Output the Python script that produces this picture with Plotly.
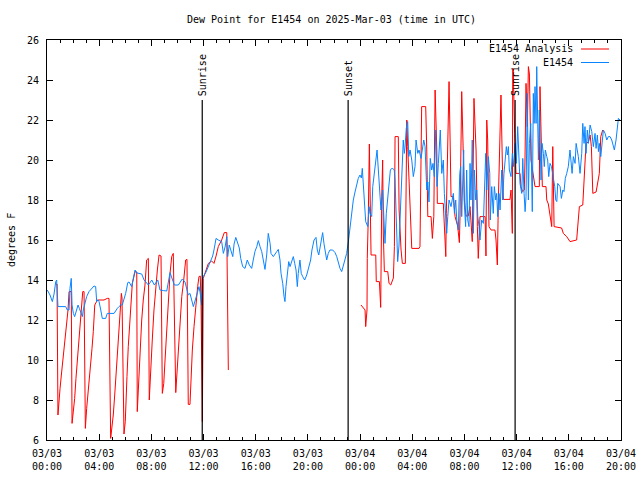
import pandas as pd
import plotly.graph_objects as go

BASE = pd.Timestamp("2025-03-03 00:00")

# E1454 observations: hours since 03/03 00:00 UTC, dew point (F)
obs_hours = [0.02, 0.23, 0.41, 0.54, 0.67, 0.74, 0.84, 1.43, 1.56, 1.69, 1.76, 1.86, 1.92, 2.02, 2.12, 2.22,
             2.38, 2.48, 2.63, 2.71, 2.78, 2.89, 3.04, 3.22, 3.40, 3.60, 3.73, 3.81, 3.91, 3.99, 4.12, 4.24,
             4.50, 4.62, 5.14, 5.27, 5.39, 5.52, 5.65, 5.77, 5.90, 6.03, 6.19, 6.29, 6.49, 6.75, 6.90, 7.26,
             7.44, 7.77, 8.03, 8.23, 8.49, 8.66, 8.92, 9.18, 9.43, 9.76, 10.07, 10.37, 10.58, 10.83, 10.96,
             11.22, 11.48, 11.60, 11.65, 11.73, 11.86, 11.91, 11.98, 12.19, 12.37, 12.55, 12.70, 12.80, 12.96,
             13.13, 13.39, 13.52, 13.65, 13.78, 13.85, 13.97, 14.08, 14.24, 14.34, 14.47, 14.59, 14.74, 14.85,
             15.00, 15.18, 15.35, 15.51, 15.69, 15.81, 15.94, 16.08, 16.20, 16.33, 16.46, 16.58, 16.71, 16.84,
             16.96, 17.10, 17.17, 17.35, 17.48, 17.61, 17.73, 17.86, 17.94, 18.07, 18.17, 18.24, 18.32, 18.42,
             18.53, 18.63, 18.76, 18.88, 18.99, 19.09, 19.19, 19.26, 19.39, 19.49, 19.60, 19.75, 19.91, 20.03,
             20.21, 20.31, 20.47, 20.62, 20.72, 20.83, 20.93, 21.03, 21.13, 21.23, 21.31, 21.44, 21.56, 21.69,
             21.90, 22.08, 22.21, 22.33, 22.46, 22.59, 22.71, 22.84, 22.97, 23.10, 23.23, 23.36, 23.48, 23.61,
             23.74, 23.86, 23.99, 24.10, 24.17, 24.25, 24.33, 24.43, 24.59, 24.69, 24.76, 24.89, 24.97, 25.09,
             25.22, 25.30, 25.40, 25.50, 25.60, 25.73, 25.86, 25.91, 26.01, 26.12, 26.22, 26.32, 26.47, 26.62,
             26.68, 26.81, 26.88, 26.98, 27.08, 27.14, 27.24, 27.31, 27.39, 27.44, 27.54, 27.65, 27.73, 27.83,
             27.96, 28.08, 28.21, 28.29, 28.42, 28.52, 28.67, 28.77, 28.88, 28.98, 29.11, 29.19, 29.28, 29.38,
             29.49, 29.59, 29.69, 29.80, 29.90, 30.00, 30.11, 30.15, 30.26, 30.38, 30.46, 30.57, 30.64, 30.72,
             30.82, 30.97, 31.07, 31.15, 31.23, 31.33, 31.41, 31.53, 31.64, 31.71, 31.79, 31.87, 31.94, 31.99,
             32.09, 32.17, 32.25, 32.35, 32.43, 32.50, 32.60, 32.68, 32.76, 32.86, 32.94, 33.02, 33.12, 33.19,
             33.32, 33.45, 33.52, 33.63, 33.71, 33.83, 33.94, 33.98, 34.09, 34.21, 34.29, 34.40, 34.47, 34.55,
             34.65, 34.73, 34.86, 34.93, 35.03, 35.11, 35.21, 35.29, 35.37, 35.44, 35.57, 35.67, 35.77, 35.87,
             35.98, 36.08, 36.18, 36.26, 36.39, 36.47, 36.57, 36.65, 36.72, 36.82, 36.90, 36.98, 37.08, 37.13,
             37.20, 37.28, 37.34, 37.41, 37.49, 37.54, 37.62, 37.67, 37.74, 37.79, 37.87, 37.95, 38.05, 38.12,
             38.20, 38.31, 38.38, 38.46, 38.56, 38.67, 38.82, 38.92, 39.00, 39.08, 39.15, 39.25, 39.33, 39.43,
             39.54, 39.63, 39.73, 39.84, 39.96, 40.09, 40.17, 40.25, 40.35, 40.48, 40.56, 40.65, 40.73, 40.86,
             40.99, 41.07, 41.17, 41.24, 41.32, 41.42, 41.50, 41.63, 41.76, 41.88, 42.01, 42.09, 42.19, 42.27,
             42.34, 42.45, 42.55, 42.65, 42.78, 42.91, 43.03, 43.16, 43.29, 43.41, 43.49, 43.62, 43.72, 43.80,
             43.92]
obs_vals = [13.5, 13.25, 12.92, 13.3, 13.92, 14.0, 12.67, 12.67, 12.5, 12.5, 13.58, 14.08, 12.75, 12.33, 12.17, 12.42,
            12.75, 12.58, 12.33, 12.17, 12.5, 12.83, 13.17, 13.42, 13.58, 13.7, 13.67, 12.92, 13.0, 12.92, 12.5, 12.08,
            12.08, 12.33, 12.33, 12.5, 12.58, 12.67, 12.75, 12.75, 13.0, 13.33, 13.87, 13.9, 13.67, 14.5, 14.35, 14.3,
            14.0, 13.75, 14.0, 13.75, 14.0, 13.5, 13.47, 13.45, 14.37, 13.75, 13.75, 14.05, 13.9, 13.25, 13.33,
            12.67, 13.25, 13.58, 13.67, 13.4, 12.75, 14.0, 14.17, 14.4, 14.67, 14.92, 15.2, 15.5, 16.08,
            16.0, 15.92, 15.33, 15.65, 16.17, 15.17, 15.75, 15.5, 15.17, 15.8, 16.13, 15.9, 15.6, 15.08,
            14.67, 14.58, 15.0, 14.75, 14.58, 15.0, 15.42, 15.67, 15.97, 15.67, 15.42, 15.0, 14.53, 15.25,
            16.33, 15.83, 15.33, 15.17, 15.33, 15.42, 15.53, 15.0, 14.33, 13.83, 13.17, 12.92, 13.67, 14.17,
            14.92, 14.67, 15.0, 15.17, 14.83, 14.5, 13.67, 14.33, 15.0, 14.33, 14.17, 14.0, 14.25, 14.58,
            15.0, 15.5, 16.0, 16.13, 15.5, 15.25, 15.67, 16.17, 16.37, 15.83, 15.5, 15.0, 15.33, 15.5,
            15.5, 15.37, 15.17, 14.83, 14.58, 14.42, 14.67, 15.0, 15.33, 15.9, 16.6, 17.4, 18.0, 18.4,
            18.8, 19.08, 19.25, 19.1, 19.58, 18.83, 17.83, 16.92, 16.67, 17.67, 17.33, 17.17, 18.67, 19.33,
            20.0, 20.5, 19.5, 18.17, 17.5, 18.5, 16.5, 15.83, 17.33, 18.17, 19.0, 19.5, 19.6, 19.5,
            19.0, 16.83, 14.92, 15.7, 17.5, 18.83, 20.17, 21.0, 20.33, 20.6, 21.58, 21.92, 20.17, 20.5,
            20.0, 19.17, 19.67, 21.0, 20.33, 20.5, 20.08, 20.5, 21.0, 20.67, 18.5, 18.9, 17.9, 20.08,
            19.5, 19.83, 19.17, 21.5, 18.67, 19.83, 21.17, 21.5, 19.33, 20.0, 18.33, 17.17, 16.33, 17.17,
            18.0, 17.67, 18.0, 18.33, 17.33, 18.0, 17.0, 16.5, 19.33, 19.67, 17.17, 18.67, 20.5, 17.83,
            16.67, 19.5, 17.0, 16.67, 19.83, 18.0, 21.0, 16.33, 19.5, 18.0, 18.5, 17.17, 16.67, 16.0,
            17.0, 16.83, 18.0, 20.33, 18.5, 20.17, 19.33, 17.0, 18.67, 17.33, 18.67, 18.0, 18.33, 17.17,
            18.33, 17.5, 19.5, 18.0, 19.33, 20.17, 20.67, 20.25, 20.67, 19.5, 19.17, 20.33, 19.67, 20.83,
            19.83, 21.67, 20.17, 18.83, 18.33, 20.08, 18.33, 17.42, 18.17, 23.33, 18.0, 20.83, 21.83, 20.0,
            17.42, 23.33, 21.83, 23.67, 21.83, 24.67, 21.67, 20.0, 22.5, 20.83, 19.0, 20.83, 20.33, 19.67,
            20.5, 20.17, 20.0, 19.17, 19.83, 19.67, 19.0, 18.67, 18.0, 17.92, 18.83, 18.75, 18.67, 18.08,
            18.5, 18.42, 19.08, 19.33, 19.67, 20.5, 20.0, 19.33, 20.17, 19.83, 20.83, 20.5, 20.17, 19.33,
            20.33, 21.83, 20.83, 21.67, 20.33, 21.5, 20.83, 21.75, 21.42, 20.67, 21.33, 20.58, 21.25, 20.42,
            20.83, 20.17, 21.0, 21.5, 21.33, 21.0, 21.17, 21.17, 21.0, 20.67, 20.5, 21.0, 21.83, 22.08,
            22.0]

# E1454 Analysis: hours since 03/03 00:00 UTC, dew point (F); None marks the data gap
ana_hours = [0.67, 0.77, 0.84, 0.92, 1.00, 1.10, 1.20, 1.30, 1.40, 1.48, 1.61, 1.69, 1.86, 1.92, 2.02, 2.12,
             2.22, 2.32, 2.43, 2.53, 2.63, 2.74, 2.84, 2.94, 3.04, 3.14, 3.24, 3.35, 3.45, 3.55, 3.60, 3.66,
             3.86, 4.37, 4.62, 4.75, 4.88, 4.98, 5.08, 5.19, 5.29, 5.39, 5.50, 5.60, 5.65, 5.70, 5.75, 5.90,
             6.00, 6.06, 6.13, 6.23, 6.34, 6.44, 6.54, 6.75, 6.88, 6.92, 7.00, 7.08, 7.15, 7.26, 7.38, 7.51,
             7.64, 7.77, 7.84, 7.95, 8.07, 8.20, 8.33, 8.46, 8.59, 8.74, 8.84, 8.95, 9.05, 9.18, 9.30, 9.43,
             9.56, 9.68, 9.87, 9.97, 10.07, 10.20, 10.33, 10.48, 10.63, 10.73, 10.83, 10.96, 11.04, 11.14,
             11.27, 11.40, 11.55, 11.65, 11.75, 11.81, 11.91, 11.98, 12.37, 12.62, 12.80, 12.96, 13.13,
             13.39, 13.59, 13.78, 13.82, 13.90, 19.00,
             24.07, 24.38, 24.43, 24.53, 24.55, 24.63, 24.71, 24.79, 24.84, 25.20, 25.24, 25.48, 25.53, 25.58,
             25.66, 25.73, 25.78, 25.86, 26.12, 26.22, 26.35, 26.55, 26.63, 26.68, 26.93, 26.99, 27.14, 27.24,
             27.47, 27.52, 27.58, 27.65, 27.83, 27.91, 27.96, 28.52, 28.59, 28.72, 29.03, 29.11, 29.19, 29.44,
             29.54, 29.65, 29.75, 29.88, 29.92, 30.38, 30.46, 30.57, 30.61, 30.69, 30.82, 30.90, 30.97, 31.15,
             31.28, 31.48, 31.61, 31.66, 31.79, 31.91, 31.99, 32.12, 32.29, 32.43, 32.60, 32.73, 32.89, 32.99,
             33.06, 33.19, 33.58, 33.65, 33.71, 33.78, 33.88, 34.04, 34.34, 34.42, 34.52, 34.60, 34.73, 34.80,
             34.90, 34.98, 35.49, 35.57, 35.67, 35.70, 35.74, 35.85, 35.95, 36.26, 36.33, 36.46, 36.59, 36.64,
             36.72, 36.82, 36.90, 36.98, 37.03, 37.10, 37.41, 37.74, 37.79, 37.92, 37.97, 38.25, 38.31, 38.43,
             38.56, 38.69, 38.77, 38.82, 38.87, 39.45, 39.58, 39.84, 40.09, 40.60, 40.73, 40.81, 41.07, 41.17,
             41.32, 41.50, 41.63, 41.73, 41.84, 42.09, 42.19, 42.27, 42.34, 42.45, 42.53, 42.60]
ana_vals = [13.78, 13.8, 7.25, 8.08, 8.58, 9.25, 9.92, 10.42, 10.92, 11.42, 12.5, 13.42, 13.42, 6.83, 7.42, 8.08,
            9.08, 9.92, 10.75, 11.42, 12.58, 13.42, 13.42, 6.58, 7.58, 8.25, 9.08, 9.8, 10.58, 11.42, 12.25, 12.75,
            13.0, 13.0, 13.08, 13.08, 6.08, 6.58, 7.25, 8.25, 9.25, 10.58, 11.58, 12.58, 12.92, 13.33, 13.1, 6.3,
            6.92, 8.33, 9.17, 10.67, 11.67, 12.83, 13.83, 14.42, 14.4, 7.42, 8.5, 9.67, 10.83, 12.0, 13.0, 13.75,
            15.0, 15.08, 8.0, 9.17, 11.0, 12.5, 13.67, 14.5, 15.25, 15.2, 8.33, 8.83, 10.0, 11.5, 12.83, 14.33,
            15.17, 15.33, 8.37, 9.33, 10.33, 11.67, 13.17, 14.0, 15.0, 15.03, 7.78, 7.78, 9.17, 10.5,
            11.67, 12.83, 13.67, 14.17, 14.2, 12.75, 6.92, 14.08, 14.83, 14.95, 14.83, 15.2, 15.67,
            16.0, 16.37, 16.37, 12.92, 9.5, None,
            12.75, 12.5, 11.67, 12.5, 15.08, 17.17, 20.8, 16.67, 15.25, 15.25, 13.92, 13.92, 13.25, 12.63,
            18.17, 20.0, 16.35, 14.42, 14.42, 13.83, 13.75, 14.1, 15.67, 21.17, 21.17, 17.5, 15.5, 14.83,
            14.83, 17.5, 22.0, 20.67, 18.17, 17.0, 15.58, 15.58, 15.67, 22.67, 22.67, 20.5, 17.17, 17.17,
            16.08, 17.17, 23.5, 20.5, 17.83, 17.83, 16.33, 15.17, 17.33, 20.58, 23.92, 21.0, 18.17, 18.17,
            17.17, 16.7, 15.87, 17.2, 23.42, 20.33, 18.0, 17.2, 17.2, 17.67, 15.92, 23.08, 20.5, 16.67,
            15.08, 17.17, 17.17, 15.2, 22.0, 21.0, 16.67, 16.5, 16.5, 16.0, 14.75, 18.0, 21.33, 23.25,
            20.0, 18.03, 18.03, 18.5, 16.33, 24.58, 24.5, 21.33, 19.33, 19.33, 18.67, 18.42, 18.5, 20.0,
            23.83, 21.67, 24.67, 24.3, 22.5, 20.0, 18.67, 18.67, 23.67, 20.83, 18.67, 18.67, 18.0, 17.8,
            17.17, 16.67, 20.67, 18.67, 16.67, 16.6, 16.33, 16.17, 15.92, 16.0, 16.83, 17.67, 17.75, 19.33,
            20.83, 20.9, 21.25, 20.67, 18.33, 18.4, 18.75, 18.9, 19.33, 21.17, 21.42, 21.5]

# Sun events
event_times = ["2025-03-03 11:54", "2025-03-03 23:05", "2025-03-04 11:53"]
event_labels = ["Sunrise", "Sunset", "Sunrise"]
event_top = 23

y_ticks = list(range(6, 27, 2))
x_start, x_end = "2025-03-03 00:00", "2025-03-04 20:00"

FONT = "DejaVu Sans Mono"
RED = "#ff0000"
BLUE = "#0a84ff"

obs_x = [BASE + pd.Timedelta(hours=h) for h in obs_hours]
ana_x = [BASE + pd.Timedelta(hours=h) for h in ana_hours]

fig = go.Figure()
fig.add_trace(go.Scatter(x=ana_x, y=ana_vals, mode="lines", name="E1454 Analysis",
                         line=dict(color=RED, width=1), connectgaps=False))
fig.add_trace(go.Scatter(x=obs_x, y=obs_vals, mode="lines", name="E1454",
                         line=dict(color=BLUE, width=1)))

for t, lab in zip(event_times, event_labels):
    fig.add_shape(type="line", xref="x", yref="y", x0=t, x1=t, y0=6, y1=event_top,
                  line=dict(color="black", width=1.2), layer="above")
    fig.add_annotation(x=t, y=event_top, xref="x", yref="y", text=lab, textangle=-90,
                       showarrow=False, xanchor="center", yanchor="bottom", yshift=2,
                       font=dict(family=FONT, size=10, color="black"))

# gnuplot-style legend (text then sample), top right inside the plot
legend_items = [("E1454 Analysis", RED), ("E1454", BLUE)]
for i, (name, col) in enumerate(legend_items):
    ypx = 49 + i * 13.5
    yp = 1 - (ypx - 40) / 400
    fig.add_annotation(x=(575 - 47) / 574, y=yp, xref="paper", yref="paper", text=name,
                       showarrow=False, xanchor="right", yanchor="middle",
                       font=dict(family=FONT, size=10, color="black"))
    fig.add_shape(type="line", xref="paper", yref="paper", x0=(581 - 47) / 574, x1=(609 - 47) / 574,
                  y0=yp, y1=yp, line=dict(color=col, width=1))

fig.add_annotation(x=(331 - 47) / 574, y=1 + (40 - 19) / 400, xref="paper", yref="paper",
                   text="Dew Point for E1454 on 2025-Mar-03 (time in UTC)", showarrow=False,
                   xanchor="center", yanchor="middle", font=dict(family=FONT, size=10, color="black"))
fig.add_annotation(x=(11 - 47) / 574, y=0.5, xref="paper", yref="paper", text="degrees F",
                   textangle=-90, showarrow=False, xanchor="center", yanchor="middle",
                   font=dict(family=FONT, size=10, color="black"))

fig.update_layout(
    width=640, height=480,
    margin=dict(l=47, r=19, t=40, b=40, autoexpand=False),
    paper_bgcolor="white", plot_bgcolor="white",
    showlegend=False,
    font=dict(family=FONT, size=10, color="black"),
    xaxis=dict(type="date", range=[x_start, x_end], tick0=x_start, dtick=4 * 3600 * 1000,
               tickformat="%m/%d<br>%H:%M", ticks="inside", ticklen=6, tickcolor="black",
               showline=True, linecolor="black", linewidth=1, mirror="allticks", automargin=False,
               showgrid=False, zeroline=False, ticklabelstandoff=4,
               minor=dict(dtick=3600 * 1000, ticks="inside", ticklen=3, tickcolor="black", showgrid=False)),
    yaxis=dict(range=[6, 26], tickvals=y_ticks, ticks="inside", ticklen=6, tickcolor="black",
               showline=True, linecolor="black", linewidth=1, mirror="allticks", automargin=False,
               showgrid=False, zeroline=False, ticklabelstandoff=5),
)

fig.write_html("out.html", config={"displayModeBar": False, "staticPlot": True},
               post_script="document.body.style.margin='0px';")
